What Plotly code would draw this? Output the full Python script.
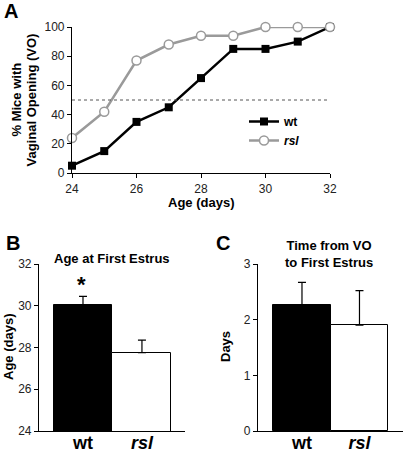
import plotly.graph_objects as go

W, H = 403, 453

# ---- data ----
age_days = [24, 25, 26, 27, 28, 29, 30, 31, 32]
wt_vo = [5, 15, 35, 45, 65, 85, 85, 90, 100]
rsl_vo = [24, 42, 77, 88, 94, 94, 100, 100, 100]

groups = ["wt", "rsl"]
group_labels = ["<b>wt</b>", "<b><i>rsl</i></b>"]
first_estrus_age = [30.05, 27.75]
first_estrus_sem = [0.4, 0.6]
vo_to_estrus = [2.27, 1.9]
vo_to_estrus_sem = [0.4, 0.62]

FONT = "Liberation Sans, Arial, Helvetica, sans-serif"
GRAY = "#9a9a9a"

def px(x):
    return x / W

def py(y):
    return 1 - y / H

fig = go.Figure()

# Panel A
fig.add_trace(go.Scatter(x=age_days, y=wt_vo, mode="lines+markers", name="<b>wt</b>",
                         line=dict(color="black", width=2.5),
                         marker=dict(symbol="square", size=8, color="black"),
                         cliponaxis=False, xaxis="x", yaxis="y"))
fig.add_trace(go.Scatter(x=age_days, y=rsl_vo, mode="lines+markers", name="<b><i>rsl</i></b>",
                         line=dict(color=GRAY, width=2.5),
                         marker=dict(symbol="circle", size=9, color="white",
                                     line=dict(color=GRAY, width=1.5)),
                         cliponaxis=False, xaxis="x", yaxis="y"))

# Panel B
fig.add_trace(go.Bar(x=[0, 1], y=first_estrus_age, width=1,
                     marker=dict(color=["black", "white"], line=dict(color="black", width=1)),
                     error_y=dict(type="data", symmetric=False, array=first_estrus_sem,
                                  arrayminus=[0, 0], color="black", thickness=1.2, width=4),
                     showlegend=False, xaxis="x2", yaxis="y2"))

# Panel C
fig.add_trace(go.Bar(x=[0, 1], y=vo_to_estrus, width=1,
                     marker=dict(color=["black", "white"], line=dict(color="black", width=1)),
                     error_y=dict(type="data", symmetric=False, array=vo_to_estrus_sem,
                                  arrayminus=[0, 0], color="black", thickness=1.2, width=4),
                     showlegend=False, xaxis="x3", yaxis="y3"))

tickfont = dict(family=FONT, size=12, color="#222")
catfont = dict(family=FONT, size=18, color="black")
axcommon = dict(showgrid=False, zeroline=False, showline=True, linecolor="black",
                linewidth=1.2, tickfont=tickfont, ticks="outside", ticklen=4,
                tickcolor="black", tickwidth=1, automargin=False)

fig.update_layout(
    width=W, height=H, margin=dict(l=0, r=0, t=0, b=0, autoexpand=False),
    paper_bgcolor="white", plot_bgcolor="white",
    font=dict(family=FONT, color="black"),
    bargap=0,
    xaxis=dict(axcommon, domain=[px(72), px(330)], range=[24, 32], tickvals=[24, 26, 28, 30, 32],
               anchor="y"),
    yaxis=dict(axcommon, domain=[py(173), py(27)], range=[0, 100], tickvals=[0, 20, 40, 60, 80, 100],
               anchor="x"),
    xaxis2=dict(axcommon, domain=[px(39), px(185)], range=[-0.746, 1.73], tickvals=[0, 1],
                ticktext=group_labels, ticks="", tickfont=catfont, ticklabelstandoff=-5,
                anchor="y2"),
    yaxis2=dict(axcommon, domain=[py(431), py(264)], range=[24, 32], tickvals=[24, 26, 28, 30, 32],
                anchor="x2"),
    xaxis3=dict(axcommon, domain=[px(258), 1], range=[-0.765, 1.757], tickvals=[0, 1],
                ticktext=group_labels, ticks="", tickfont=catfont, ticklabelstandoff=-5,
                anchor="y3"),
    yaxis3=dict(axcommon, domain=[py(431), py(264)], range=[0, 3], tickvals=[0, 1, 2, 3],
                anchor="x3"),
    legend=dict(x=px(244), y=py(107), xanchor="left", yanchor="top",
                font=dict(family=FONT, size=12, color="black"), bgcolor="rgba(0,0,0,0)",
                itemwidth=30),
    shapes=[dict(type="line", xref="x", yref="y", x0=24, x1=32.1, y0=50, y1=50,
                 line=dict(color="#555", width=1, dash="dot"))],
)

ann = []
def A(x, y, text, size=13, angle=0, **kw):
    ann.append(dict(x=px(x), y=py(y), xref="paper", yref="paper", text=text, showarrow=False,
                    xanchor="center", yanchor="middle",
                    textangle=angle, font=dict(family=FONT, size=size, color="black"), **kw))

A(11, 11, "<b>A</b>", size=20)
A(13, 243, "<b>B</b>", size=20)
A(223, 243, "<b>C</b>", size=20)
A(15.5, 100, "<b>% Mice with</b>", angle=-90)
A(30.5, 100, "<b>Vaginal Opening (VO)</b>", angle=-90)
A(201, 202, "<b>Age (days)</b>")
A(8, 347, "<b>Age (days)</b>", angle=-90)
A(225, 347, "<b>Days</b>", angle=-90)
A(112, 258, "<b>Age at First Estrus</b>")
A(329, 254, "<b>Time from VO<br>to First Estrus</b>")
A(81, 284, "<b>*</b>", size=22)
fig.update_layout(annotations=ann)

fig.write_html("out.html", config={"displayModeBar": False},
               post_script="document.body.style.margin='0';document.body.style.overflow='hidden';")
